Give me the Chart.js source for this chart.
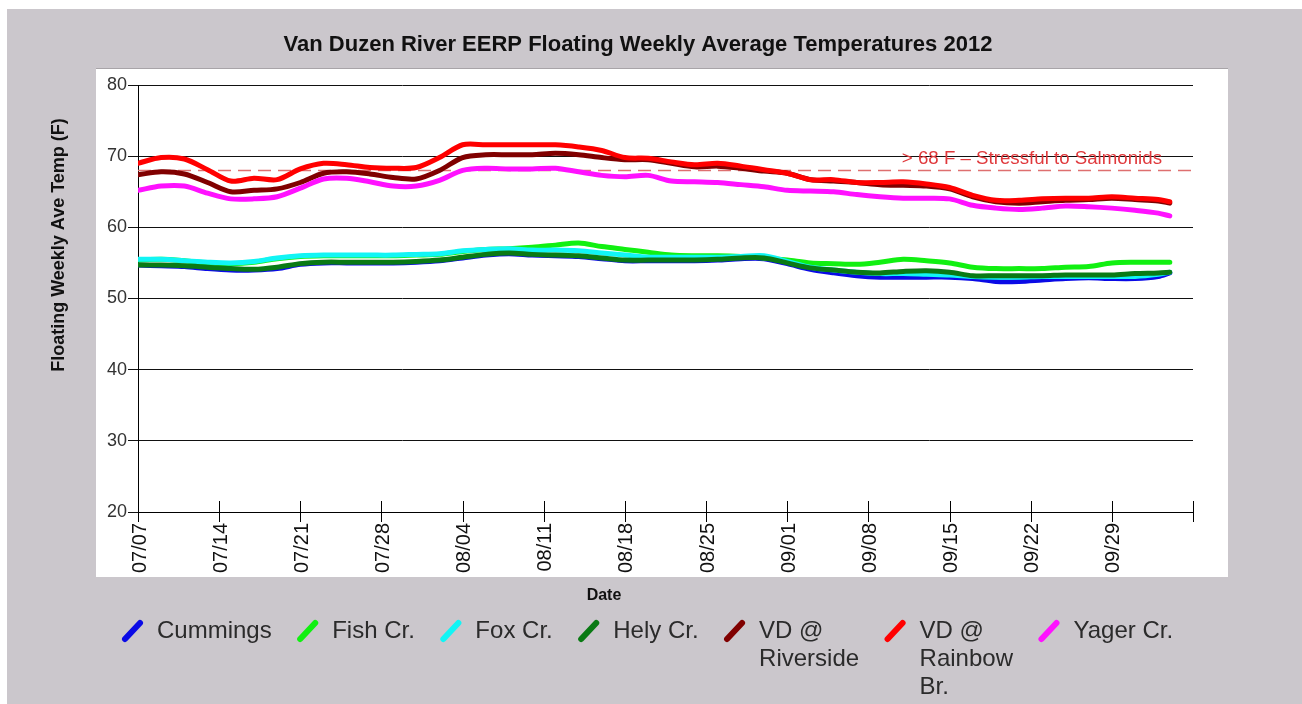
<!DOCTYPE html>
<html>
<head>
<meta charset="utf-8">
<script src="https://cdn.jsdelivr.net/npm/chart.js@4.4.1/dist/chart.umd.min.js"></script>
<style>
html,body{margin:0;padding:0;background:#fff;overflow:hidden}
canvas{display:block}
</style>
</head>
<body>
<canvas id="c" width="1302" height="704"></canvas>
<script>
// ---- DATA ----
const days = [0,2,4,6,8,10,12,14,16,18,20,22,24,26,28,30,32,34,36,38,40,42,44,46,48,50,52,54,56,58,60,62,64,66,68,70,72,74,76,78,80,82,84,86,88,89];
const tickLabels = ['07/07','07/14','07/21','07/28','08/04','08/11','08/18','08/25','09/01','09/08','09/15','09/22','09/29',''];
const seriesNames = ['Cummings','Fish Cr.','Fox Cr.','Hely Cr.','VD @ Riverside','VD @ Rainbow Br.','Yager Cr.'];
const cummings = [54.7,54.6,54.5,54.2,54.0,54.0,54.2,54.8,55.0,55.0,55.0,55.0,55.1,55.3,55.7,56.1,56.3,56.1,56.0,55.9,55.6,55.3,55.3,55.3,55.3,55.4,55.6,55.6,54.9,54.1,53.6,53.2,53.0,53.0,53.0,53.0,52.8,52.4,52.4,52.6,52.8,52.9,52.8,52.8,53.1,53.6];
const fishCr = [55.4,55.5,55.3,55.0,54.9,55.1,55.6,55.9,56.0,56.0,56.0,56.0,56.1,56.2,56.6,56.9,57.0,57.2,57.5,57.8,57.3,56.9,56.5,56.1,56.0,56.0,55.9,55.7,55.4,55.0,54.9,54.8,55.1,55.5,55.3,55.0,54.4,54.2,54.2,54.2,54.4,54.5,55.0,55.1,55.1,55.1];
const foxCr = [55.5,55.5,55.3,55.1,55.0,55.2,55.7,56.0,56.1,56.1,56.1,56.1,56.2,56.3,56.7,56.9,57.0,56.8,56.8,56.7,56.4,56.1,55.8,55.8,55.8,55.8,55.9,56.0,55.2,54.4,54.0,53.7,53.5,53.5,53.4,53.3,53.1,53.0,53.0,53.1,53.1,53.1,53.1,53.1,53.4,53.7];
const helyCr = [54.7,54.7,54.6,54.4,54.2,54.1,54.4,54.9,55.1,55.1,55.1,55.1,55.2,55.4,55.8,56.2,56.4,56.2,56.1,56.0,55.7,55.4,55.4,55.4,55.4,55.5,55.7,55.7,55.0,54.3,54.0,53.7,53.6,53.8,53.9,53.7,53.2,53.2,53.2,53.2,53.3,53.3,53.3,53.5,53.6,53.7];
const vdRiverside = [67.4,67.8,67.5,66.3,65.0,65.2,65.4,66.3,67.6,67.8,67.5,67.0,66.8,68.0,69.8,70.2,70.2,70.2,70.4,70.2,69.8,69.5,69.5,69.0,68.5,68.6,68.3,67.9,67.6,66.7,66.5,66.3,66.0,65.9,65.8,65.4,64.3,63.6,63.4,63.6,63.8,63.9,64.1,63.9,63.7,63.4];
const vdRainbow = [69.0,69.8,69.6,68.1,66.5,66.9,66.7,68.2,69.0,68.8,68.4,68.3,68.4,69.8,71.6,71.6,71.6,71.6,71.6,71.3,70.8,69.8,69.7,69.2,68.8,69.0,68.6,68.1,67.6,66.7,66.7,66.3,66.3,66.4,66.1,65.6,64.5,63.8,63.8,64.0,64.1,64.1,64.3,64.1,63.9,63.6];
const yagerCr = [65.2,65.8,65.8,64.8,64.0,64.0,64.3,65.5,66.8,66.9,66.4,65.8,65.8,66.6,68.0,68.3,68.2,68.2,68.3,67.8,67.3,67.1,67.3,66.5,66.4,66.3,66.0,65.7,65.2,65.1,65.0,64.6,64.3,64.1,64.1,64.0,63.1,62.7,62.5,62.7,63.0,62.9,62.7,62.4,62.0,61.6];
const threshold = 68;
const thresholdLabel = '> 68 F \u2013 Stressful to Salmonids';
const chartTitle = 'Van Duzen River EERP Floating Weekly Average Temperatures 2012';
const yTitle = 'Floating Weekly Ave Temp (F)';
const xTitle = 'Date';

// ---- STYLE ----
const seriesValues = [cummings, fishCr, foxCr, helyCr, vdRiverside, vdRainbow, yagerCr];
const colors = ['#0a0ae6','#11f011','#11f5f5','#0a7a14','#800000','#ff0000','#ff11ff'];
const FONT = "'Liberation Sans', Arial, sans-serif";

const datasets = seriesNames.map((name, i) => ({
  label: name,
  data: days.map((d, k) => ({x: d, y: seriesValues[i][k]})),
  borderColor: colors[i],
  backgroundColor: colors[i],
  borderWidth: 5,
  pointRadius: 0,
  tension: 0.3,
  borderJoinStyle: 'round',
  borderCapStyle: 'round',
  fill: false,
  order: seriesNames.length - i
}));

function wrapWords(ctx, text, maxW) {
  const words = text.split(' ');
  const lines = [];
  let cur = '';
  for (const w of words) {
    const test = cur ? cur + ' ' + w : w;
    if (cur && ctx.measureText(test).width > maxW) { lines.push(cur); cur = w; }
    else cur = test;
  }
  if (cur) lines.push(cur);
  return lines;
}

const decor = {
  id: 'decor',
  beforeDraw(chart) {
    const ctx = chart.ctx;
    ctx.save();
    ctx.fillStyle = '#ffffff';
    ctx.fillRect(0, 0, chart.width, chart.height);
    ctx.fillStyle = '#cbc7cc';
    ctx.fillRect(7, 9, chart.width - 7, chart.height - 9);
    ctx.fillStyle = '#ffffff';
    ctx.fillRect(96, 68, 1132, 509);
    ctx.strokeStyle = '#a8a4a8';
    ctx.lineWidth = 1;
    ctx.beginPath(); ctx.moveTo(96, 68.5); ctx.lineTo(1228, 68.5); ctx.stroke();
    ctx.restore();
  },
  beforeDatasetsDraw(chart) {
    const ctx = chart.ctx, ca = chart.chartArea, ys = chart.scales.y;
    const y = Math.round(ys.getPixelForValue(threshold)) + 0.5;
    ctx.save();
    ctx.strokeStyle = '#de6f6f';
    ctx.lineWidth = 1.6;
    ctx.setLineDash([13, 7]);
    ctx.beginPath(); ctx.moveTo(ca.left, y); ctx.lineTo(ca.right, y); ctx.stroke();
    ctx.setLineDash([]);
    ctx.fillStyle = '#e0393c';
    ctx.font = '18.7px ' + FONT;
    ctx.textAlign = 'right';
    ctx.textBaseline = 'alphabetic';
    ctx.fillText(thresholdLabel, ca.right - 31, y - 7);
    ctx.restore();
  },
  afterDraw(chart) {
    const ctx = chart.ctx, ca = chart.chartArea, xs = chart.scales.x;
    ctx.save();
    // tick marks crossing the x axis
    ctx.strokeStyle = '#000';
    ctx.lineWidth = 1;
    xs.ticks.forEach(t => {
      const px = Math.round(xs.getPixelForValue(t.value)) + 0.5;
      ctx.beginPath(); ctx.moveTo(px, ca.bottom - 11); ctx.lineTo(px, ca.bottom + 10); ctx.stroke();
    });
    // title
    ctx.fillStyle = '#111';
    ctx.font = 'bold 22px ' + FONT;
    ctx.textAlign = 'center';
    ctx.textBaseline = 'middle';
    ctx.fillText(chartTitle, 638, 45);
    // axis titles
    ctx.font = 'bold 16px ' + FONT;
    ctx.fillText(xTitle, 604, 596);
    ctx.save();
    ctx.translate(59, 245);
    ctx.rotate(-Math.PI / 2);
    ctx.font = 'bold 18px ' + FONT;
    ctx.fillText(yTitle, 0, 0);
    ctx.restore();
    // legend
    ctx.font = '24px ' + FONT;
    ctx.textAlign = 'left';
    ctx.textBaseline = 'middle';
    let x = 122;
    const y0 = 631, lh = 28;
    chart.data.datasets.forEach((ds) => {
      ctx.strokeStyle = ds.borderColor;
      ctx.lineWidth = 6;
      ctx.lineCap = 'round';
      ctx.beginPath(); ctx.moveTo(x + 3, y0 + 8); ctx.lineTo(x + 18, y0 - 8); ctx.stroke();
      const lines = wrapWords(ctx, ds.label, 108);
      ctx.fillStyle = '#2b2b2b';
      let w = 0;
      lines.forEach((ln, k) => {
        ctx.fillText(ln, x + 35, y0 + k * lh);
        w = Math.max(w, ctx.measureText(ln).width);
      });
      x += 35 + w + 25.5;
    });
    ctx.restore();
  }
};

new Chart(document.getElementById('c'), {
  type: 'line',
  data: { datasets },
  plugins: [decor],
  options: {
    responsive: false,
    animation: false,
    devicePixelRatio: 1,
    layout: { padding: { left: 0, top: 85, right: 109, bottom: 0 } },
    plugins: { legend: { display: false }, title: { display: false }, tooltip: { enabled: false } },
    scales: {
      x: {
        type: 'linear',
        min: 0, max: 91,
        afterFit: s => { s.height = 192; },
        afterBuildTicks: s => { s.ticks = tickLabels.map((_, i) => ({ value: i * 7 })); },
        ticks: {
          stepSize: 7,
          autoSkip: false,
          maxRotation: 90, minRotation: 90,
          padding: 11,
          labelOffset: 2,
          color: '#111',
          font: { family: FONT, size: 20 },
          callback: (v) => tickLabels[Math.round(v / 7)] ?? ''
        },
        grid: { drawOnChartArea: false, drawTicks: false },
        border: { display: true, color: '#000', width: 1 }
      },
      y: {
        min: 20, max: 80,
        afterFit: s => { s.width = 138; },
        ticks: { stepSize: 10, padding: 1, color: '#333', font: { family: FONT, size: 18 } },
        grid: { color: '#111', lineWidth: 1, tickLength: 10, drawTicks: true },
        border: { display: true, color: '#000', width: 1 }
      }
    }
  }
});
</script>
</body>
</html>
